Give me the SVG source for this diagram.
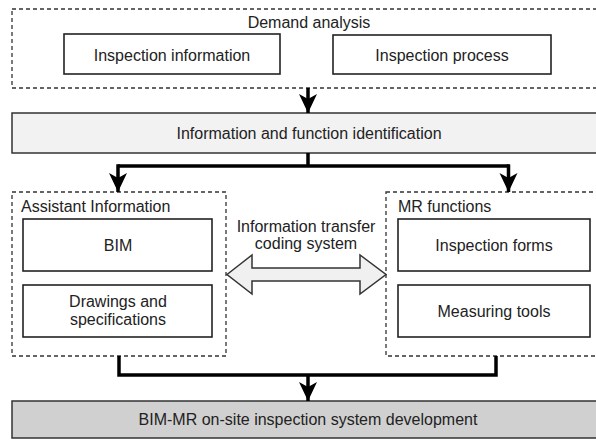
<svg xmlns="http://www.w3.org/2000/svg" width="596" height="440" viewBox="0 0 596 440">
<style>
text{font-family:"Liberation Sans",Arial,sans-serif;font-size:16px;fill:#222}
.c{text-anchor:middle}
.dash{fill:none;stroke:#333;stroke-width:1.3;stroke-dasharray:4 3}
.box{fill:#fff;stroke:#222;stroke-width:1.6}
.wire{fill:none;stroke:#000;stroke-width:3.5}
</style>
<defs>
<marker id="ah" markerUnits="userSpaceOnUse" markerWidth="20" markerHeight="20" viewBox="-20 -10 20 20" refX="0" refY="0" orient="auto">
<path d="M0,0 L-19,-9 L-14,0 L-19,9 Z" fill="#000"/>
</marker>
</defs>
<rect width="596" height="440" fill="#fff"/>
<g id="demand">
<rect class="dash" x="12" y="9" width="596" height="79"/>
<text class="c" x="309" y="28">Demand analysis</text>
</g>
<g id="inspection-information">
<rect class="box" x="64" y="34" width="216" height="40"/>
<text class="c" x="172" y="61">Inspection information</text>
</g>
<g id="inspection-process">
<rect class="box" x="333" y="35" width="218" height="39"/>
<text class="c" x="442" y="61">Inspection process</text>
</g>
<g id="identification">
<rect x="12" y="113" width="596" height="40" fill="#f2f2f2" stroke="#333" stroke-width="1.5"/>
<text class="c" x="309" y="139">Information and function identification</text>
</g>
<g id="assistant">
<rect class="dash" x="12" y="192" width="214" height="164"/>
<text x="21" y="212">Assistant Information</text>
</g>
<g id="bim">
<rect class="box" x="23" y="219" width="189" height="52"/>
<text class="c" x="118" y="251">BIM</text>
</g>
<g id="drawings">
<rect class="box" x="23" y="285" width="189" height="52"/>
<text class="c" x="118" y="307">Drawings and</text>
<text class="c" x="118" y="325">specifications</text>
</g>
<g id="mr">
<rect class="dash" x="386" y="192" width="222" height="164"/>
<text x="398" y="212">MR functions</text>
</g>
<g id="forms">
<rect class="box" x="398" y="219" width="192" height="52"/>
<text class="c" x="494" y="251">Inspection forms</text>
</g>
<g id="tools">
<rect class="box" x="398" y="285" width="192" height="52"/>
<text class="c" x="494" y="317">Measuring tools</text>
</g>
<g id="development">
<rect x="12" y="401" width="596" height="37" fill="#d0d0d0" stroke="#333" stroke-width="1.5"/>
<text class="c" x="308" y="425">BIM-MR on-site inspection system development</text>
</g>
<g id="transfer">
<path d="M227,274.5 L252,255 L252,268 L360,268 L360,255 L386,274.5 L360,294 L360,281 L252,281 L252,294 Z" fill="#f0f0f0" stroke="#333" stroke-width="1.5" stroke-linejoin="miter"/>
<text class="c" x="306" y="232">Information transfer</text>
<text class="c" x="306" y="249">coding system</text>
</g>
<g id="connectors">
<path class="wire" d="M308,88 L308,113" marker-end="url(#ah)"/>
<path class="wire" d="M308,153 L308,166"/>
<path class="wire" d="M118,166 L508.5,166"/>
<path class="wire" d="M118,164.25 L118,192" marker-end="url(#ah)"/>
<path class="wire" d="M508.5,164.25 L508.5,192" marker-end="url(#ah)"/>
<path class="wire" d="M119,356 L119,375 L496,375 L496,356"/>
<path class="wire" d="M308,375 L308,401" marker-end="url(#ah)"/>
</g>
</svg>
